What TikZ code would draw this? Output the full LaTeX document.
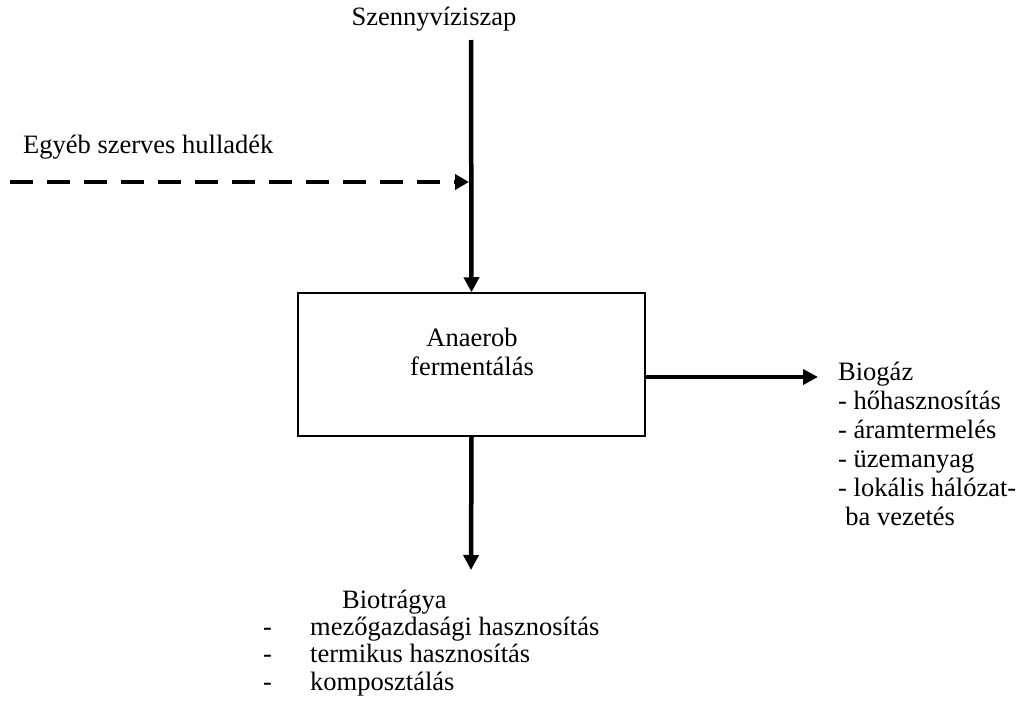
\documentclass[tikz,border=0pt]{standalone}
\usepackage{fontspec}
\setmainfont{Liberation Serif}
\usetikzlibrary{arrows.meta}
\tikzset{
  lbl/.style={inner sep=0pt, font=\fontsize{26.5}{29}\selectfont},
  flow/.style={line width=4.5pt, -{Triangle[length=15pt,width=15pt]}},
  dflow/.style={line width=4pt, dash pattern=on 23pt off 14pt, -{Triangle[length=14pt,width=15pt]}},
  procbox/.style={draw, line width=1.5pt, minimum width=347pt, minimum height=143pt, inner sep=0pt}
}
\begin{document}
\begin{tikzpicture}[x=1pt,y=-1pt]
\useasboundingbox (0,0) rectangle (1021,704);
\node[procbox] (box) at (471.5,364.5) {};
\node[lbl, anchor=base] (boxlbl) at (472,346) {\begin{tabular}[t]{@{}c@{}}Anaerob\\fermentálás\end{tabular}};
\node[lbl, anchor=base] (szv) at (434,25) {Szennyvíziszap};
\node[lbl, anchor=base west] (egy) at (23,153) {Egyéb szerves hulladék};
\coordinate (top) at (471,40);
\coordinate (junc) at (471,182);
\coordinate (dstart) at (10,182);
\coordinate (rtip) at (818,377);
\coordinate (btip) at (471,570);
\draw[flow] (top) -- (box.north);
\draw[dflow, shorten >=2pt] (dstart) -- (junc);
\draw[flow] (box.east |- rtip) -- (rtip);
\draw[flow] (box.south) -- (btip);
\node[lbl, anchor=base west] (bio) at (838,380) {\begin{tabular}[t]{@{}l@{}}Biogáz\\
- hőhasznosítás\\
- áramtermelés\\
- üzemanyag\\
- lokális hálózat-\\
\hspace*{0.27em}ba vezetés\end{tabular}};
\node[lbl, anchor=base west] (btr) at (342,608) {Biotrágya};
\node[lbl, font=\fontsize{26.5}{27.5}\selectfont, anchor=base west] (bdash) at (263,635) {\begin{tabular}[t]{@{}l@{}}-\\-\\-\end{tabular}};
\node[lbl, font=\fontsize{26.5}{27.5}\selectfont, anchor=base west] (blist) at (310,635) {\begin{tabular}[t]{@{}l@{}}mezőgazdasági hasznosítás\\termikus hasznosítás\\komposztálás\end{tabular}};
\end{tikzpicture}
\end{document}
